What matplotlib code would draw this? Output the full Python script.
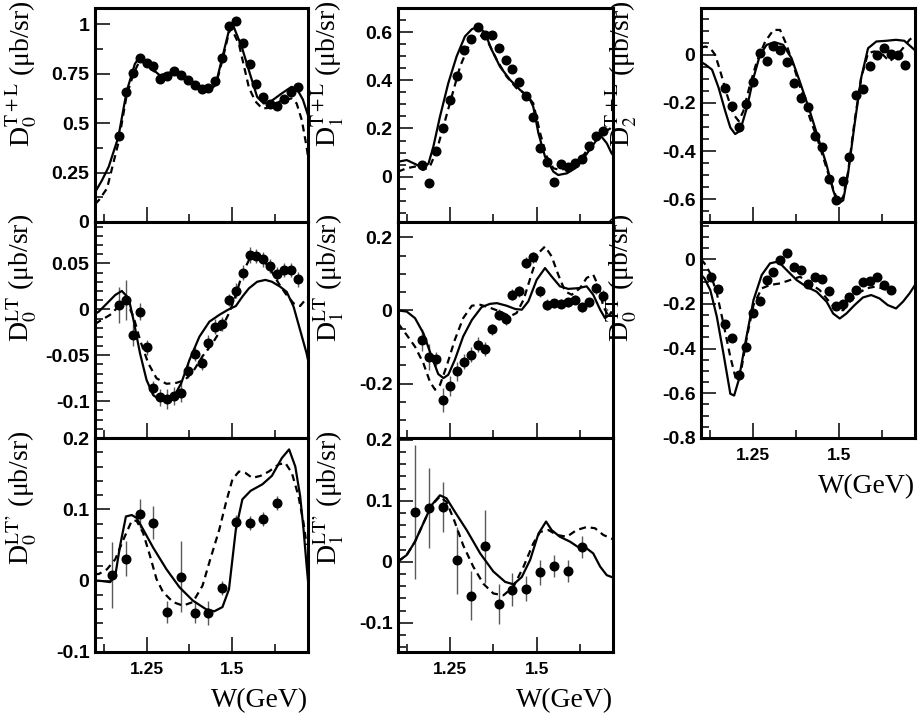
import matplotlib
matplotlib.use("Agg")
import matplotlib.pyplot as plt
from matplotlib.ticker import MultipleLocator, FixedLocator, FuncFormatter

# W bins of the measured points
w_bins = [1.17, 1.19, 1.21, 1.23, 1.25, 1.27, 1.29, 1.31, 1.33, 1.35, 1.37, 1.39, 1.41, 1.43,
          1.45, 1.47, 1.49, 1.51, 1.53, 1.55, 1.57, 1.59, 1.61, 1.63, 1.65, 1.67, 1.69]
w_bins_tt = [1.13, 1.15, 1.17, 1.19, 1.21, 1.23, 1.25, 1.27, 1.29, 1.31, 1.33, 1.35, 1.37, 1.39,
             1.41, 1.43, 1.45, 1.47, 1.49, 1.51, 1.53, 1.55, 1.57, 1.59, 1.61, 1.63, 1.65]
w_coarse = [1.15, 1.19, 1.23, 1.27, 1.31, 1.35, 1.39, 1.43, 1.47, 1.51, 1.55, 1.59, 1.63]

# D0 T+L
d0tl_pts = [0.434, 0.659, 0.755, 0.828, 0.806, 0.789, 0.726, 0.738, 0.765, 0.743, 0.721, 0.693, 0.671, 0.676,
            0.713, 0.828, 0.992, 1.019, 0.907, 0.802, 0.698, 0.633, 0.596, 0.586, 0.625, 0.659, 0.681]
d0tl_sol_w = [1.10, 1.12, 1.14, 1.168, 1.192, 1.216, 1.229, 1.26, 1.288, 1.327, 1.365, 1.404, 1.433, 1.452,
              1.471, 1.490, 1.502, 1.527, 1.551, 1.572, 1.591, 1.61, 1.643, 1.672, 1.687, 1.705, 1.72]
d0tl_sol = [0.15, 0.21, 0.28, 0.43, 0.66, 0.80, 0.833, 0.785, 0.743, 0.76, 0.735, 0.684, 0.667, 0.70,
            0.836, 0.97, 0.995, 0.887, 0.75, 0.633, 0.60, 0.608, 0.65, 0.684, 0.676, 0.62, 0.54]
d0tl_das_w = [1.10, 1.111, 1.135, 1.168, 1.192, 1.212, 1.231, 1.26, 1.288, 1.327, 1.365, 1.404, 1.433, 1.452,
              1.471, 1.490, 1.497, 1.519, 1.548, 1.567, 1.587, 1.615, 1.643, 1.672, 1.687, 1.702, 1.716, 1.72]
d0tl_das = [0.09, 0.11, 0.17, 0.40, 0.64, 0.75, 0.82, 0.78, 0.74, 0.755, 0.73, 0.68, 0.665, 0.695,
            0.82, 0.96, 0.98, 0.90, 0.68, 0.61, 0.574, 0.58, 0.617, 0.625, 0.60, 0.515, 0.38, 0.33]

# D0 LT
d0lt_pts = [0.0047, 0.0101, -0.0279, -0.0025, -0.0413, -0.0859, -0.0957, -0.0978, -0.0942, -0.0906, -0.0667,
            -0.0486, -0.0580, -0.0362, -0.0188, -0.0159, 0.0101, 0.0203, 0.0399, 0.0591, 0.0580, 0.0543,
            0.0471, 0.0380, 0.0428, 0.0428, 0.0326]
d0lt_err = [0.02, 0.022, 0.012, 0.009, 0.008, 0.008, 0.009, 0.011, 0.01, 0.01, 0.008, 0.008, 0.008, 0.008,
            0.008, 0.008, 0.007, 0.008, 0.008, 0.009, 0.008, 0.008, 0.008, 0.008, 0.008, 0.008, 0.008]
d0lt_sol_w = [1.10, 1.111, 1.135, 1.159, 1.178, 1.198, 1.212, 1.231, 1.25, 1.269, 1.288, 1.308, 1.327, 1.351,
              1.375, 1.404, 1.433, 1.462, 1.486, 1.510, 1.529, 1.548, 1.572, 1.596, 1.615, 1.639, 1.658,
              1.678, 1.697, 1.716, 1.72]
d0lt_sol = [-0.005, -0.0025, 0.0065, 0.0156, 0.020, 0.012, -0.0116, -0.0478, -0.0768, -0.0931, -0.0986,
            -0.100, -0.0967, -0.0804, -0.0551, -0.0297, -0.0134, -0.006, -0.0007, 0.0036, 0.0138, 0.0228,
            0.030, 0.032, 0.030, 0.0246, 0.019, 0.0029, -0.0225, -0.048, -0.055]
d0lt_das_w = [1.10, 1.111, 1.144, 1.173, 1.192, 1.212, 1.231, 1.255, 1.279, 1.308, 1.337, 1.361, 1.385,
              1.413, 1.442, 1.466, 1.490, 1.510, 1.529, 1.550, 1.567, 1.587, 1.611, 1.635, 1.654, 1.678,
              1.697, 1.716, 1.72]
d0lt_das = [-0.016, -0.0134, -0.006, 0.0047, 0.0083, -0.008, -0.0333, -0.0587, -0.075, -0.081, -0.080,
            -0.077, -0.068, -0.051, -0.037, -0.0225, -0.0043, 0.0156, 0.039, 0.055, 0.059, 0.055, 0.043,
            0.028, 0.0174, 0.0065, 0.0036, 0.012, 0.013]

# D0 LT'
d0ltp_pts = [0.0079, 0.031, 0.094, 0.081, -0.044, 0.0056, -0.045, -0.045, -0.010, 0.082, 0.081, 0.086, 0.109]
d0ltp_err = [0.046, 0.025, 0.02, 0.023, 0.016, 0.05, 0.015, 0.017, 0.01, 0.01, 0.01, 0.01, 0.01]
d0ltp_sol_w = [1.10, 1.111, 1.144, 1.159, 1.173, 1.19, 1.207, 1.221, 1.24, 1.269, 1.308, 1.346, 1.385, 1.423,
               1.447, 1.471, 1.490, 1.510, 1.529, 1.553, 1.587, 1.615, 1.644, 1.665, 1.683, 1.697, 1.707,
               1.716, 1.72]
d0ltp_sol = [0.0, 0.0, -0.002, 0.007, 0.049, 0.09, 0.092, 0.088, 0.072, 0.0465, 0.016, -0.0093, -0.028,
             -0.040, -0.043, -0.037, -0.012, 0.072, 0.114, 0.126, 0.135, 0.147, 0.172, 0.184, 0.16, 0.119,
             0.072, 0.021, 0.0]
d0ltp_das_w = [1.10, 1.111, 1.135, 1.159, 1.183, 1.207, 1.221, 1.24, 1.260, 1.279, 1.298, 1.327, 1.356,
               1.385, 1.413, 1.433, 1.462, 1.481, 1.5, 1.519, 1.538, 1.558, 1.582, 1.606, 1.635, 1.654,
               1.673, 1.692, 1.707, 1.716]
d0ltp_das = [0.0093, 0.0093, 0.016, 0.030, 0.058, 0.084, 0.084, 0.067, 0.035, 0.0023, -0.016, -0.030,
             -0.035, -0.030, -0.007, 0.026, 0.072, 0.109, 0.142, 0.153, 0.151, 0.144, 0.147, 0.153, 0.163,
             0.165, 0.151, 0.119, 0.081, 0.05]

# D1 T+L
d1tl_pts = [0.0485, -0.025, 0.108, 0.201, 0.319, 0.416, 0.527, 0.571, 0.621, 0.589, 0.589, 0.536, 0.485, 0.446,
            0.395, 0.335, 0.249, 0.118, 0.062, -0.021, 0.053, 0.042, 0.055, 0.072, 0.127, 0.169, 0.191]
d1tl_sol_w = [1.10, 1.125, 1.149, 1.173, 1.188, 1.202, 1.221, 1.245, 1.269, 1.293, 1.313, 1.332, 1.351,
              1.370, 1.394, 1.423, 1.452, 1.476, 1.490, 1.505, 1.524, 1.548, 1.562, 1.587, 1.611, 1.635,
              1.659, 1.683, 1.702, 1.716, 1.72]
d1tl_sol = [0.062, 0.069, 0.053, 0.035, 0.055, 0.125, 0.249, 0.388, 0.499, 0.582, 0.612, 0.624, 0.596,
            0.527, 0.457, 0.402, 0.36, 0.333, 0.291, 0.18, 0.083, 0.021, 0.007, 0.014, 0.035, 0.076, 0.125,
            0.173, 0.139, 0.097, 0.09]
d1tl_das_w = [1.10, 1.125, 1.149, 1.173, 1.192, 1.212, 1.231, 1.255, 1.279, 1.303, 1.322, 1.341, 1.361,
              1.385, 1.413, 1.442, 1.471, 1.490, 1.510, 1.529, 1.548, 1.567, 1.587, 1.615, 1.639, 1.663,
              1.683, 1.697, 1.712, 1.72]
d1tl_das = [0.021, 0.035, 0.042, 0.028, 0.042, 0.111, 0.208, 0.333, 0.457, 0.54, 0.579, 0.585, 0.554,
            0.485, 0.416, 0.367, 0.339, 0.305, 0.18, 0.083, 0.035, 0.028, 0.035, 0.055, 0.097, 0.152, 0.18,
            0.187, 0.20, 0.21]

# D1 LT
d1lt_pts = [-0.082, -0.128, -0.133, -0.245, -0.206, -0.167, -0.140, -0.121, -0.094, -0.106, -0.051, -0.012,
            -0.024, 0.043, 0.052, 0.130, 0.146, 0.052, 0.0155, 0.020, 0.018, 0.022, 0.029, 0.009, 0.022,
            0.061, 0.040]
d1lt_err = [0.03, 0.035, 0.02, 0.034, 0.027, 0.025, 0.02, 0.02, 0.02, 0.02, 0.015, 0.015, 0.015, 0.015,
            0.015, 0.015, 0.015, 0.015, 0.015, 0.012, 0.012, 0.012, 0.012, 0.012, 0.012, 0.015, 0.015]
d1lt_sol_w = [1.10, 1.125, 1.149, 1.173, 1.197, 1.216, 1.231, 1.245, 1.264, 1.288, 1.313, 1.341, 1.365,
              1.385, 1.413, 1.438, 1.457, 1.476, 1.5, 1.524, 1.543, 1.567, 1.591, 1.620, 1.644, 1.663,
              1.683, 1.697, 1.716, 1.72]
d1lt_sol = [0.0, -0.003, -0.021, -0.062, -0.126, -0.174, -0.185, -0.176, -0.135, -0.071, -0.026, 0.009,
            0.018, 0.020, 0.013, 0.004, 0.002, 0.025, 0.084, 0.116, 0.093, 0.066, 0.059, 0.061, 0.066,
            0.043, 0.002, -0.021, -0.007, -0.003]
d1lt_das_w = [1.10, 1.125, 1.149, 1.173, 1.192, 1.207, 1.221, 1.24, 1.264, 1.288, 1.313, 1.337, 1.361,
              1.394, 1.423, 1.442, 1.462, 1.486, 1.505, 1.524, 1.543, 1.562, 1.582, 1.601, 1.625, 1.644,
              1.663, 1.678, 1.692, 1.707, 1.716]
d1lt_das = [-0.035, -0.067, -0.099, -0.144, -0.195, -0.217, -0.204, -0.153, -0.080, -0.021, 0.013, 0.0155,
            0.009, -0.003, -0.016, -0.007, 0.029, 0.102, 0.157, 0.175, 0.148, 0.098, 0.052, 0.043, 0.061,
            0.089, 0.098, 0.066, 0.011, -0.016, -0.003]

# D1 LT'
d1ltp_pts = [0.082, 0.0885, 0.090, 0.0027, -0.0557, 0.0257, -0.069, -0.046, -0.044, -0.0175, -0.007, -0.015, 0.0235]
d1ltp_err = [0.11, 0.066, 0.041, 0.055, 0.04, 0.06, 0.033, 0.027, 0.02, 0.02, 0.018, 0.018, 0.018]
d1ltp_sol_w = [1.10, 1.106, 1.125, 1.149, 1.173, 1.197, 1.221, 1.24, 1.264, 1.298, 1.337, 1.375, 1.409,
               1.433, 1.457, 1.481, 1.505, 1.527, 1.543, 1.567, 1.596, 1.625, 1.644, 1.663, 1.683, 1.702,
               1.716, 1.72]
d1ltp_sol = [0.0, 0.003, 0.011, 0.033, 0.063, 0.093, 0.109, 0.104, 0.082, 0.052, 0.0137, -0.016, -0.033,
             -0.037, -0.025, 0.003, 0.046, 0.066, 0.052, 0.041, 0.033, 0.022, 0.022, 0.0137, -0.008, -0.022,
             -0.025, -0.026]
d1ltp_das_w = [1.10, 1.106, 1.125, 1.149, 1.173, 1.197, 1.221, 1.24, 1.260, 1.288, 1.317, 1.346, 1.375,
               1.404, 1.433, 1.462, 1.490, 1.510, 1.534, 1.558, 1.587, 1.615, 1.644, 1.668, 1.692, 1.716, 1.72]
d1ltp_das = [0.0, 0.003, 0.011, 0.033, 0.063, 0.093, 0.107, 0.098, 0.071, 0.027, -0.008, -0.036, -0.052,
             -0.055, -0.041, -0.008, 0.030, 0.049, 0.052, 0.044, 0.041, 0.052, 0.057, 0.055, 0.044, 0.038, 0.037]

# D2 T+L
d2tl_pts = [-0.140, -0.213, -0.299, -0.203, -0.113, 0.007, -0.025, 0.038, 0.021, -0.030, -0.117, -0.178, -0.217,
            -0.336, -0.384, -0.515, -0.604, -0.522, -0.423, -0.167, -0.144, -0.048, 0.0, 0.027, 0.003,
            -0.003, -0.044]
d2tl_sol_w = [1.10, 1.113, 1.132, 1.151, 1.170, 1.185, 1.199, 1.213, 1.233, 1.252, 1.271, 1.290, 1.314,
              1.338, 1.362, 1.386, 1.415, 1.439, 1.463, 1.483, 1.497, 1.512, 1.526, 1.545, 1.564, 1.584,
              1.608, 1.637, 1.665, 1.689, 1.718, 1.72]
d2tl_sol = [-0.03, -0.041, -0.062, -0.137, -0.233, -0.302, -0.329, -0.316, -0.22, -0.096, 0.0, 0.041, 0.052,
            0.041, -0.0137, -0.11, -0.233, -0.343, -0.453, -0.563, -0.618, -0.604, -0.494, -0.288, -0.096,
            0.027, 0.055, 0.058, 0.062, 0.058, 0.021, 0.018]
d2tl_das_w = [1.10, 1.113, 1.127, 1.141, 1.156, 1.175, 1.194, 1.209, 1.223, 1.242, 1.262, 1.286, 1.310,
              1.329, 1.348, 1.367, 1.391, 1.415, 1.439, 1.463, 1.483, 1.497, 1.512, 1.526, 1.545, 1.564,
              1.584, 1.603, 1.627, 1.646, 1.665, 1.685, 1.704, 1.715, 1.72]
d2tl_das = [0.03, 0.034, 0.027, 0.0, -0.069, -0.165, -0.247, -0.275, -0.233, -0.124, -0.027, 0.055, 0.103,
            0.103, 0.041, -0.041, -0.151, -0.261, -0.357, -0.467, -0.556, -0.611, -0.590, -0.487, -0.275,
            -0.096, 0.007, 0.014, 0.0, -0.027, -0.007, 0.027, 0.062, 0.075, 0.078]

# D0 TT
d0tt_pts = [-0.081, -0.135, -0.288, -0.351, -0.520, -0.393, -0.240, -0.186, -0.093, -0.055, -0.003, 0.030,
            -0.036, -0.048, -0.111, -0.081, -0.090, -0.141, -0.210, -0.201, -0.168, -0.138, -0.100, -0.097,
            -0.081, -0.115, -0.138]
d0tt_sol_w = [1.10, 1.110, 1.127, 1.146, 1.165, 1.185, 1.196, 1.209, 1.228, 1.252, 1.276, 1.300, 1.324,
              1.348, 1.377, 1.406, 1.435, 1.464, 1.483, 1.502, 1.521, 1.545, 1.569, 1.593, 1.617, 1.641,
              1.665, 1.685, 1.704, 1.718, 1.72]
d0tt_sol = [-0.07, -0.085, -0.138, -0.258, -0.422, -0.602, -0.61, -0.542, -0.378, -0.183, -0.070, -0.018,
            -0.010, -0.048, -0.093, -0.123, -0.145, -0.19, -0.243, -0.265, -0.243, -0.205, -0.171, -0.160,
            -0.175, -0.205, -0.220, -0.190, -0.153, -0.120, -0.115]
d0tt_das_w = [1.10, 1.110, 1.127, 1.146, 1.165, 1.185, 1.202, 1.213, 1.233, 1.252, 1.276, 1.300, 1.329,
              1.358, 1.387, 1.415, 1.444, 1.468, 1.492, 1.512, 1.531, 1.555, 1.579, 1.603, 1.627, 1.651, 1.665]
d0tt_das = [0.0, -0.018, -0.063, -0.153, -0.288, -0.437, -0.542, -0.527, -0.348, -0.205, -0.130, -0.115,
            -0.108, -0.093, -0.078, -0.108, -0.138, -0.183, -0.225, -0.228, -0.190, -0.153, -0.130, -0.123,
            -0.130, -0.145, -0.145]

plt.rcParams['mathtext.fontset'] = 'stix'
plt.rcParams['lines.scale_dashes'] = False

fig = plt.figure(figsize=(9.19, 7.27), dpi=100)
W, H = 919, 727

# columns: left px, width px, y-label offset px ; rows: top px, bottom px
cols = [(95, 213, -56), (398, 215, -52), (701, 214, -62)]
rows = [(8, 222), (222, 438), (438, 652)]

panels = [
    dict(c=0, r=0, lab=r"D$_0^{\rm T+L}$ (μb/sr)", ylim=(0, 1.083), maj=[0, 0.25, 0.5, 0.75, 1], mn=0.125,
         pw=w_bins, py=d0tl_pts, pe=None, sw=d0tl_sol_w, sy=d0tl_sol, dw=d0tl_das_w, dy=d0tl_das),
    dict(c=0, r=1, lab=r"D$_0^{\rm LT}$ (μb/sr)", ylim=(-0.14, 0.095), maj=[-0.1, -0.05, 0, 0.05], mn=0.01,
         pw=w_bins, py=d0lt_pts, pe=d0lt_err, sw=d0lt_sol_w, sy=d0lt_sol, dw=d0lt_das_w, dy=d0lt_das),
    dict(c=0, r=2, lab=r"D$_0^{\rm LT’}$ (μb/sr)", ylim=(-0.1, 0.2), maj=[-0.1, 0, 0.1, 0.2], mn=0.02,
         pw=w_coarse, py=d0ltp_pts, pe=d0ltp_err, sw=d0ltp_sol_w, sy=d0ltp_sol, dw=d0ltp_das_w, dy=d0ltp_das),
    dict(c=1, r=0, lab=r"D$_1^{\rm T+L}$ (μb/sr)", ylim=(-0.188, 0.70), maj=[0, 0.2, 0.4, 0.6], mn=0.05,
         pw=w_bins, py=d1tl_pts, pe=None, sw=d1tl_sol_w, sy=d1tl_sol, dw=d1tl_das_w, dy=d1tl_das),
    dict(c=1, r=1, lab=r"D$_1^{\rm LT}$ (μb/sr)", ylim=(-0.349, 0.242), maj=[-0.2, 0, 0.2], mn=0.05,
         pw=w_bins, py=d1lt_pts, pe=d1lt_err, sw=d1lt_sol_w, sy=d1lt_sol, dw=d1lt_das_w, dy=d1lt_das),
    dict(c=1, r=2, lab=r"D$_1^{\rm LT’}$ (μb/sr)", ylim=(-0.148, 0.203), maj=[-0.1, 0, 0.1, 0.2], mn=0.02,
         pw=w_coarse, py=d1ltp_pts, pe=d1ltp_err, sw=d1ltp_sol_w, sy=d1ltp_sol, dw=d1ltp_das_w, dy=d1ltp_das),
    dict(c=2, r=0, lab=r"D$_2^{\rm T+L}$ (μb/sr)", ylim=(-0.694, 0.194), maj=[-0.6, -0.4, -0.2, 0], mn=0.05,
         pw=w_bins, py=d2tl_pts, pe=None, sw=d2tl_sol_w, sy=d2tl_sol, dw=d2tl_das_w, dy=d2tl_das),
    dict(c=2, r=1, lab=r"D$_0^{\rm TT}$ (μb/sr)", ylim=(-0.8, 0.167), maj=[-0.8, -0.6, -0.4, -0.2, 0], mn=0.05,
         pw=w_bins_tt, py=d0tt_pts, pe=None, sw=d0tt_sol_w, sy=d0tt_sol, dw=d0tt_das_w, dy=d0tt_das),
]

bottom_of = {0: 2, 1: 2, 2: 1}
fmt = FuncFormatter(lambda v, p: f"{round(v, 6) + 0.0:g}")

for p in panels:
    lx, wpx, loff = cols[p['c']]
    top, bot = rows[p['r']]
    ax = fig.add_axes([lx / W, 1 - bot / H, wpx / W, (bot - top) / H])
    ax.plot(p['sw'], p['sy'], color='black', lw=1.6, zorder=3)
    ax.plot(p['dw'], p['dy'], color='black', lw=1.6, dashes=(5, 3.5), zorder=3)
    if p['pe'] is not None:
        ax.errorbar(p['pw'], p['py'], yerr=p['pe'], fmt='none', ecolor='0.35', elinewidth=1.0, zorder=2)
    ax.plot(p['pw'], p['py'], 'o', color='black', ms=6.2, zorder=4)

    ax.set_xlim(1.1, 1.72)
    ax.set_ylim(*p['ylim'])
    ax.xaxis.set_major_locator(FixedLocator([1.25, 1.5]))
    ax.xaxis.set_minor_locator(FixedLocator([1.125, 1.375, 1.625]))
    ax.yaxis.set_major_locator(FixedLocator(p['maj']))
    ax.yaxis.set_minor_locator(MultipleLocator(p['mn']))
    ax.yaxis.set_major_formatter(fmt)
    ax.xaxis.set_major_formatter(FuncFormatter(lambda v, q: f"{v:g}"))
    ax.tick_params(which='both', direction='in', top=False, right=False, width=1.1)
    ax.tick_params(which='major', length=11)
    ax.tick_params(which='minor', length=5.5)
    ax.tick_params(axis='y', which='major', pad=4, labelsize=14)
    ax.tick_params(axis='x', which='major', pad=7, labelsize=12.5)
    for lbl in ax.get_yticklabels() + ax.get_xticklabels():
        lbl.set_fontweight('bold')
        lbl.set_family('Liberation Sans')
    for s in ax.spines.values():
        s.set_linewidth(2.2)

    ax.set_ylabel(p['lab'], loc='top', fontsize=20, family='Liberation Serif')
    ax.yaxis.set_label_coords(loff / wpx, 1 + 8 / (bot - top))
    if p['r'] == bottom_of[p['c']]:
        ax.set_xlabel('W(GeV)', loc='right', fontsize=20, family='Liberation Serif')
        ax.xaxis.set_label_coords(1.0, -36 / (bot - top))
    else:
        ax.tick_params(axis='x', labelbottom=False)

fig.savefig('out.png', dpi=100)
